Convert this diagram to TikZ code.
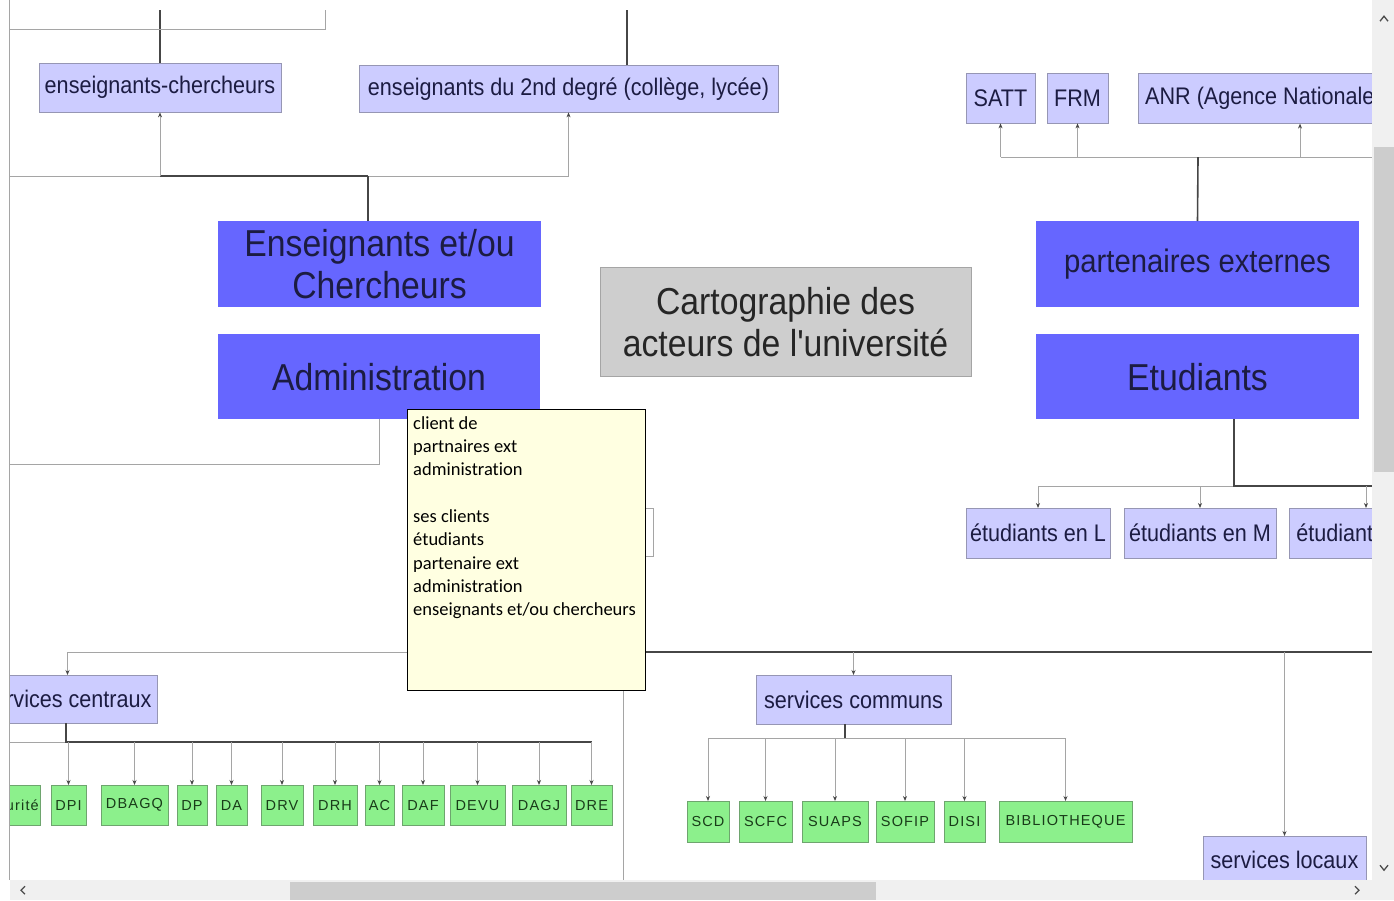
\documentclass[tikz,border=0pt]{standalone}
\usepackage{fontspec}
\setmainfont{Liberation Sans}
\newfontfamily\appfont[FakeStretch=0.9]{Liberation Sans}
\newfontfamily\capfont[LetterSpace=8]{Liberation Sans}
\newfontfamily\tipfont[Ligatures=NoCommon]{Carlito}
\usetikzlibrary{arrows.meta}

\definecolor{lavfill}{RGB}{204,204,255}
\definecolor{lavline}{RGB}{150,150,180}
\definecolor{bluefill}{RGB}{102,102,255}
\definecolor{navy}{RGB}{28,28,66}
\definecolor{greyfill}{RGB}{206,206,206}
\definecolor{greyline}{RGB}{165,165,165}
\definecolor{greenfill}{RGB}{140,240,140}
\definecolor{greenline}{RGB}{110,165,110}
\definecolor{greentext}{RGB}{25,60,25}
\definecolor{tipfill}{RGB}{255,255,225}
\definecolor{linkgrey}{RGB}{165,165,165}
\definecolor{busgrey}{RGB}{70,70,70}
\definecolor{barfill}{RGB}{240,240,240}
\definecolor{thumbfill}{RGB}{205,205,205}

\tikzset{
  bigbox/.style={rectangle, fill=bluefill, text=navy, align=center, inner sep=0pt,
    font=\appfont\fontsize{37.5}{42}\selectfont, minimum width=323pt, minimum height=86pt},
  centerbox/.style={bigbox, fill=greyfill, draw=greyline, text=black!85,
    minimum width=371pt, minimum height=109pt},
  smallbox/.style={rectangle, draw=lavline, fill=lavfill, text=navy, inner sep=2pt,
    font=\appfont\fontsize{24}{27}\selectfont, minimum height=49pt},
  greenbox/.style={rectangle, draw=greenline, fill=greenfill, text=greentext, inner sep=1pt,
    font=\capfont\fontsize{14.5}{16}\selectfont, minimum height=40pt},
  tipbox/.style={rectangle, draw=black, fill=tipfill, line width=1.2pt, inner sep=0pt},
  tiptext/.style={align=left, inner sep=3pt, font=\tipfont\fontsize{18.5}{23.3}\selectfont},
  link/.style={draw=linkgrey, line width=1pt},
  linkarrow/.style={link, -{Stealth[length=5pt,width=4pt,color=busgrey]}},
  bus/.style={draw=busgrey, line width=1.6pt},
  chev/.style={draw=black!70, line width=1.3pt},
}

\begin{document}
\begin{tikzpicture}[x=1pt,y=-1pt]
\fill[white] (0,0) rectangle (1394,900);

\begin{scope}
\clip (10,0) rectangle (1372,880);

% enseignants
\node[smallbox, minimum width=242pt] (ec) at (160,87.5) {enseignants-chercheurs};
\node[smallbox, minimum width=419pt, minimum height=47pt] (e2d) at (568.5,88.5) {enseignants du 2nd degré (collège, lycée)};
\node[bigbox] (enc) at (379.5,264) {Enseignants et/ou\\Chercheurs};
\node[bigbox, minimum width=322pt, minimum height=85pt] (adm) at (379,376.5) {Administration};

\draw[bus] (ec.north) -- ++(0,-53);
\draw[link] (10,29) -- (325,29) -- (325,10);
\draw[bus] ([xshift=58.5pt]e2d.north) -- ++(0,-55);

\coordinate (encj) at (368,176);
\draw[link] (10,176) -- (e2d.south |- encj);
\draw[bus] (ec.south |- encj) -- (encj);
\draw[bus] (enc.north -| encj) -- (encj);
\draw[linkarrow] (ec.south |- encj) -- (ec.south);
\draw[linkarrow] (e2d.south |- encj) -- (e2d.south);

\draw[link] (adm.south) |- (10,464);

% centre
\node[centerbox] (carto) at (785.5,321.5) {Cartographie des\\acteurs de l'université};

% partenaires
\node[smallbox, minimum width=69pt, minimum height=50pt] (satt) at (1000.5,98) {SATT};
\node[smallbox, minimum width=61pt, minimum height=50pt] (frm) at (1077.5,98) {FRM};
\node[smallbox, anchor=north west, inner xsep=7pt, minimum height=50pt] (anr) at (1138,73) {ANR (Agence Nationale de la Recherche)};
\node[bigbox, font=\appfont\fontsize{32.5}{36}\selectfont] (pe) at (1197.5,264) {partenaires externes};

\coordinate (pej) at (1198,157);
\coordinate (anrin) at ([xshift=162pt]anr.south west);
\draw[link] (satt.south |- pej) -- (1380,157);
\draw[bus] (pe.north) -- (pej);
\draw[linkarrow] (satt.south |- pej) -- (satt.south);
\draw[linkarrow] (frm.south |- pej) -- (frm.south);
\draw[linkarrow] (anrin |- pej) -- (anrin);

% etudiants
\node[bigbox, minimum height=85pt] (etu) at (1197.5,376.5) {Etudiants};
\node[smallbox, minimum width=144pt, minimum height=50pt] (etl) at (1038,533) {étudiants en L};
\node[smallbox, minimum width=152pt, minimum height=50pt] (etm) at (1200,533) {étudiants en M};
\node[smallbox, minimum width=154pt, minimum height=50pt] (etd) at (1366,533) {étudiants en D};

\coordinate (etuj) at (1234,486);
\draw[link] (etl.north |- etuj) -- (etuj);
\draw[bus] (etu.south -| etuj) -- (etuj) -- (1380,486);
\draw[linkarrow] (etl.north |- etuj) -- (etl.north);
\draw[linkarrow] (etm.north |- etuj) -- (etm.north);
\draw[linkarrow] (etd.north |- etuj) -- (etd.north);

% box partly behind the note
\draw[linkgrey, fill=white] (560,508) rectangle (653,556);

% services
\node[smallbox, minimum width=179pt, minimum height=48pt] (scx) at (67.5,699) {services centraux};
\node[smallbox, minimum width=195pt] (scm) at (853.5,699.5) {services communs};
\node[smallbox, minimum width=163pt, minimum height=48pt] (slo) at (1284.5,860) {services locaux};

\coordinate (mainj) at (600,652);
\draw[link] (scx.north |- mainj) -- (mainj);
\draw[bus] (mainj) -- (1380,652);
\draw[linkarrow] (scx.north |- mainj) -- (scx.north);
\draw[linkarrow] (scm.north |- mainj) -- (scm.north);
\draw[linkarrow] (slo.north |- mainj) -- (slo.north);
\draw[link] (623,690) -- (623,880);

% services centraux
\node[greenbox, anchor=east, minimum width=60pt] (secu) at (40,805) {Sécurité};
\foreach \name/\x/\w in {DPI/68.5/35, DBAGQ/134.5/67, DP/192/30, DA/231.5/31, DRV/282/42,
    DRH/335/44, AC/379.5/29, DAF/423/42, DEVU/477.5/55, DAGJ/539/54, DRE/591.5/41}
  \node[greenbox, minimum width=\w pt] (\name) at (\x,805) {\name};

\coordinate (scxj) at (66,742);
\draw[link] (10,742) -- (scxj);
\draw[bus] (scx.south -| scxj) -- (scxj) -- (DRE.north |- scxj);
\foreach \name in {DPI, DBAGQ, DP, DA, DRV, DRH, AC, DAF, DEVU, DAGJ, DRE}
  \draw[linkarrow] (\name.north |- scxj) -- (\name.north);

% services communs
\foreach \name/\x/\w in {SCD/708/42, SCFC/765.5/53, SUAPS/835/66, SOFIP/905/58,
    DISI/964.5/41, BIBLIOTHEQUE/1065.5/133}
  \node[greenbox, minimum width=\w pt, minimum height=41pt] (\name) at (\x,821.5) {\name};

\coordinate (scmj) at (845,738);
\draw[link] (SCD.north |- scmj) -- (BIBLIOTHEQUE.north |- scmj);
\draw[bus] (scm.south -| scmj) -- (scmj);
\foreach \name in {SCD, SCFC, SUAPS, SOFIP, DISI, BIBLIOTHEQUE}
  \draw[linkarrow] (\name.north |- scmj) -- (\name.north);

% note
\node[tipbox, anchor=north west, minimum width=238pt, minimum height=281pt] (tip) at (407,409) {};
\node[tiptext, anchor=north west] (tiptxt) at ([xshift=3pt,yshift=-4pt]tip.north west)
  {client de\\partnaires ext\\administration\\[23.5pt]ses clients\\étudiants\\partenaire ext\\administration\\enseignants et/ou chercheurs};
\end{scope}

% window frame and scroll bars
\draw[linkgrey] (9,0) -- (9,880);
\fill[barfill] (1372,0) rectangle (1394,900);
\fill[barfill] (10,880) rectangle (1394,900);
\fill[thumbfill] (1374,147) rectangle (1394,472);
\fill[thumbfill] (290,882) rectangle (876,900);
\draw[chev] (1380,21) -- (1384,16) -- (1388,21);
\draw[chev] (1380,865) -- (1384,870) -- (1388,865);
\draw[chev] (25,886) -- (21,890) -- (25,894);
\draw[chev] (1355,886) -- (1359,890) -- (1355,894);
\end{tikzpicture}
\end{document}
